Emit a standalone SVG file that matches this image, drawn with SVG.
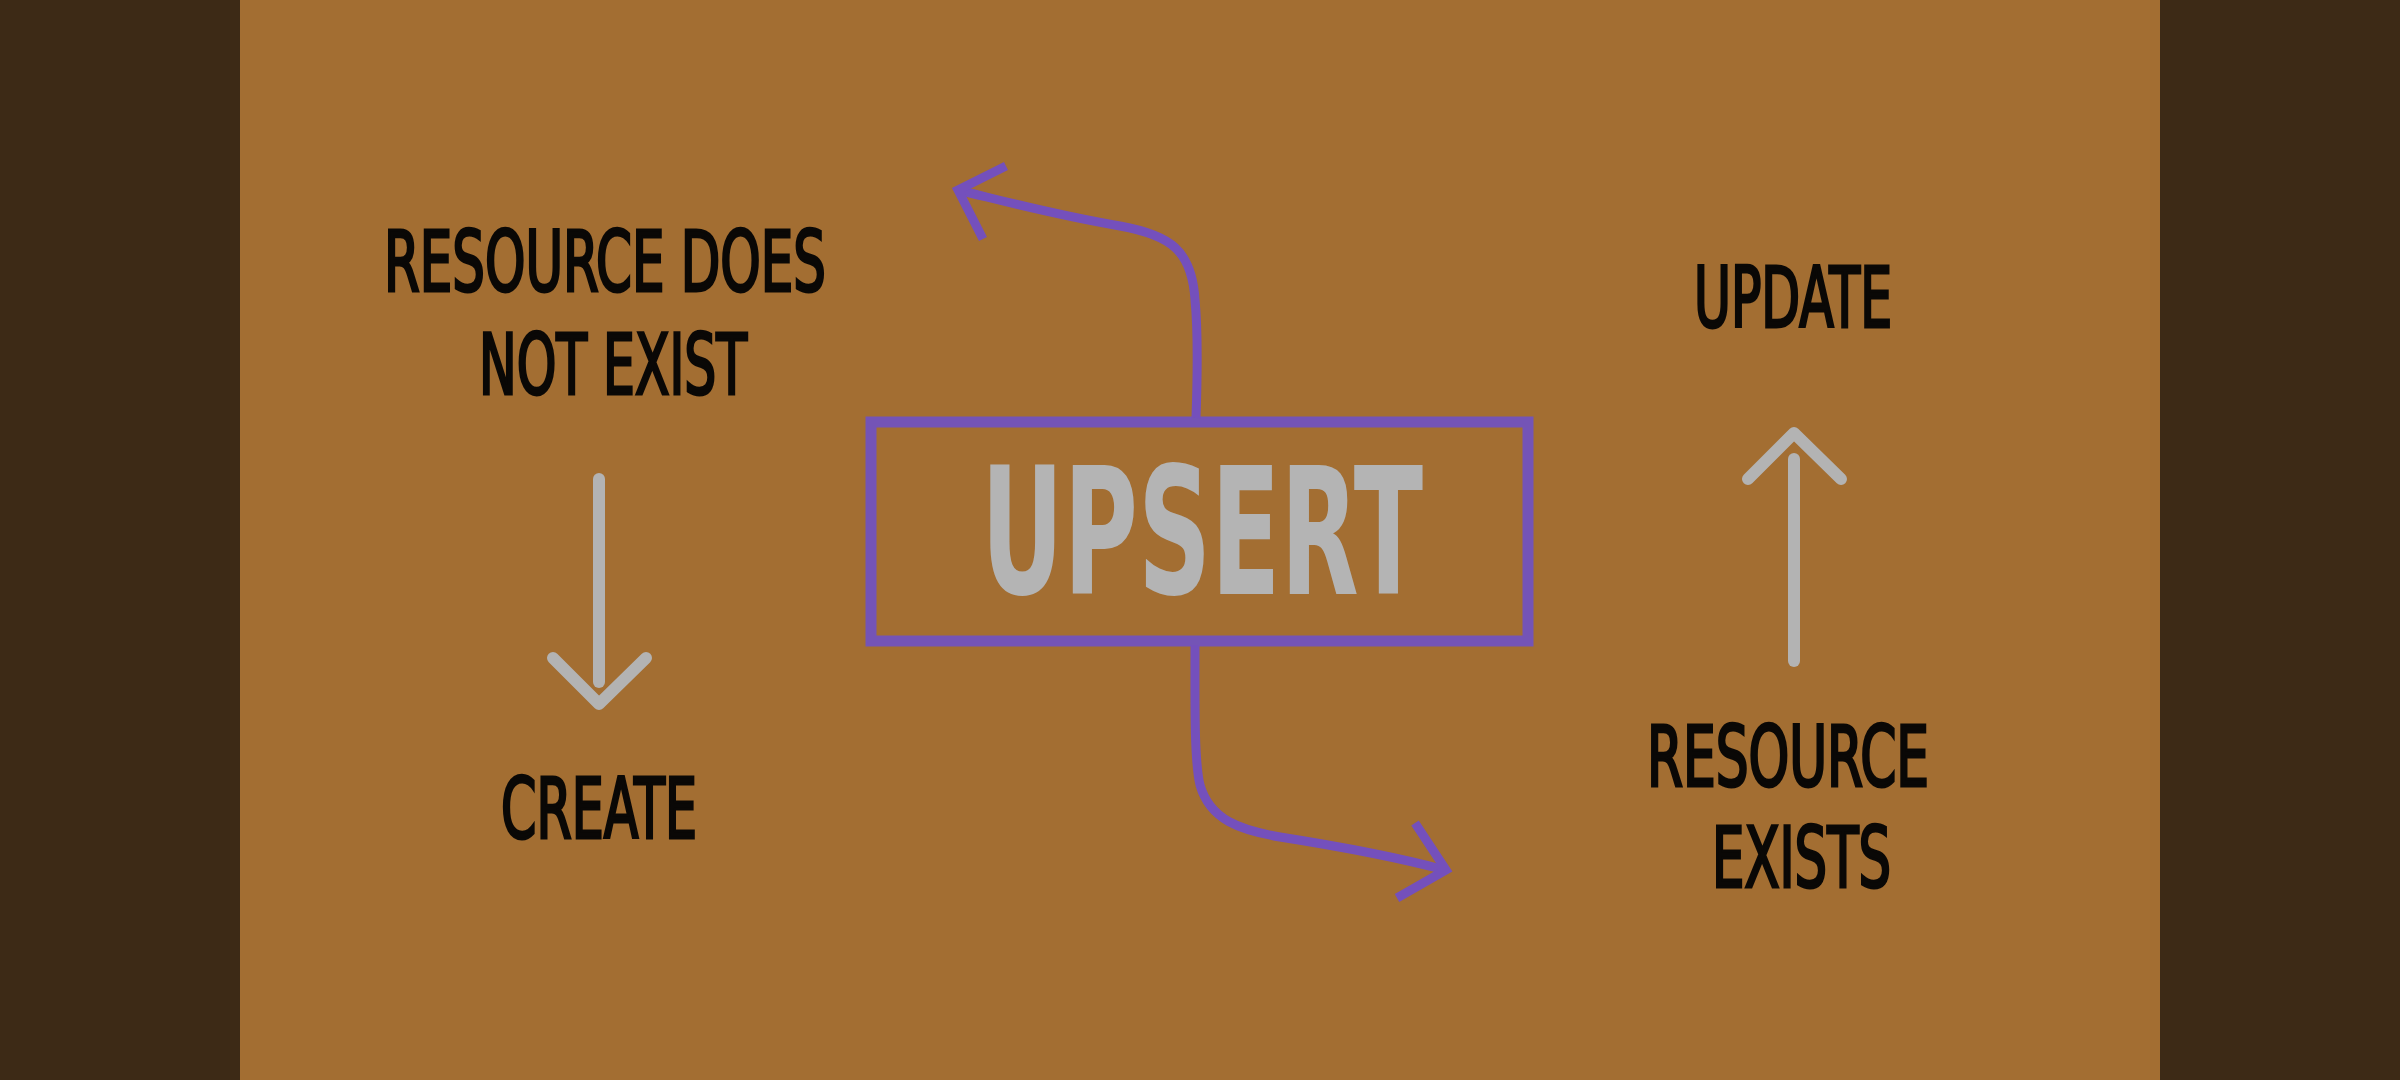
<svg xmlns="http://www.w3.org/2000/svg" width="2400" height="1080" viewBox="0 0 2400 1080">
<defs>
<style>
.lbl{font-family:"Liberation Sans Narrow","DejaVu Sans Condensed","Liberation Sans",sans-serif;font-weight:normal;font-size:83px;fill:#0a0806;stroke:#0a0806;stroke-width:3}
.big{font-family:"Liberation Sans Narrow","DejaVu Sans Condensed","Liberation Sans",sans-serif;font-weight:bold;font-size:176px;fill:#b4b4b4}
.gray{fill:none;stroke:#b3b3b3;stroke-width:12;stroke-linecap:round;stroke-linejoin:round}
.purp{fill:none;stroke:#7450bc;stroke-width:9;stroke-linecap:butt;stroke-linejoin:miter}
</style>
</defs>
<rect x="0" y="0" width="2400" height="1080" fill="#3d2a16"/>
<rect x="240" y="0" width="1920" height="1080" fill="#a36e32"/>
<g id="upsert">
<rect x="871" y="422" width="657" height="219" fill="none" stroke="#7454b6" stroke-width="11"/>
<text class="big" x="981" y="594" textLength="442" lengthAdjust="spacingAndGlyphs">UPSERT</text>
</g>
<g id="not-exist">
<text class="lbl" x="384" y="291" textLength="442" lengthAdjust="spacingAndGlyphs">RESOURCE DOES</text>
<text class="lbl" x="479" y="394" textLength="268" lengthAdjust="spacingAndGlyphs">NOT EXIST</text>
</g>
<g id="create">
<text class="lbl" x="501" y="838" textLength="196" lengthAdjust="spacingAndGlyphs">CREATE</text>
</g>
<g id="update">
<text class="lbl" x="1694" y="327" textLength="198" lengthAdjust="spacingAndGlyphs">UPDATE</text>
</g>
<g id="exists">
<text class="lbl" x="1647" y="786" textLength="282" lengthAdjust="spacingAndGlyphs">RESOURCE</text>
<text class="lbl" x="1712" y="887" textLength="179" lengthAdjust="spacingAndGlyphs">EXISTS</text>
</g>
<g id="connectors">
<path class="gray" d="M599,479 L599,682"/>
<path class="gray" d="M553,658 L599,704 L646,658"/>
<path class="gray" d="M1794,661 L1794,459"/>
<path class="gray" d="M1748,479 L1794,433 L1841,479"/>
<path class="purp" d="M1196,418 C1198,360 1197,320 1195,300 C1192,250 1170,235 1120,226 C1050,214 1000,200 958,190"/>
<path class="purp" d="M1006,166 L958,190 L983,239"/>
<path class="purp" d="M1195,645 C1195,700 1194,760 1200,785 C1210,820 1240,830 1280,837 C1350,848 1400,858 1445,870"/>
<path class="purp" d="M1415,823 L1446,870 L1397,898"/>
</g>
</svg>
